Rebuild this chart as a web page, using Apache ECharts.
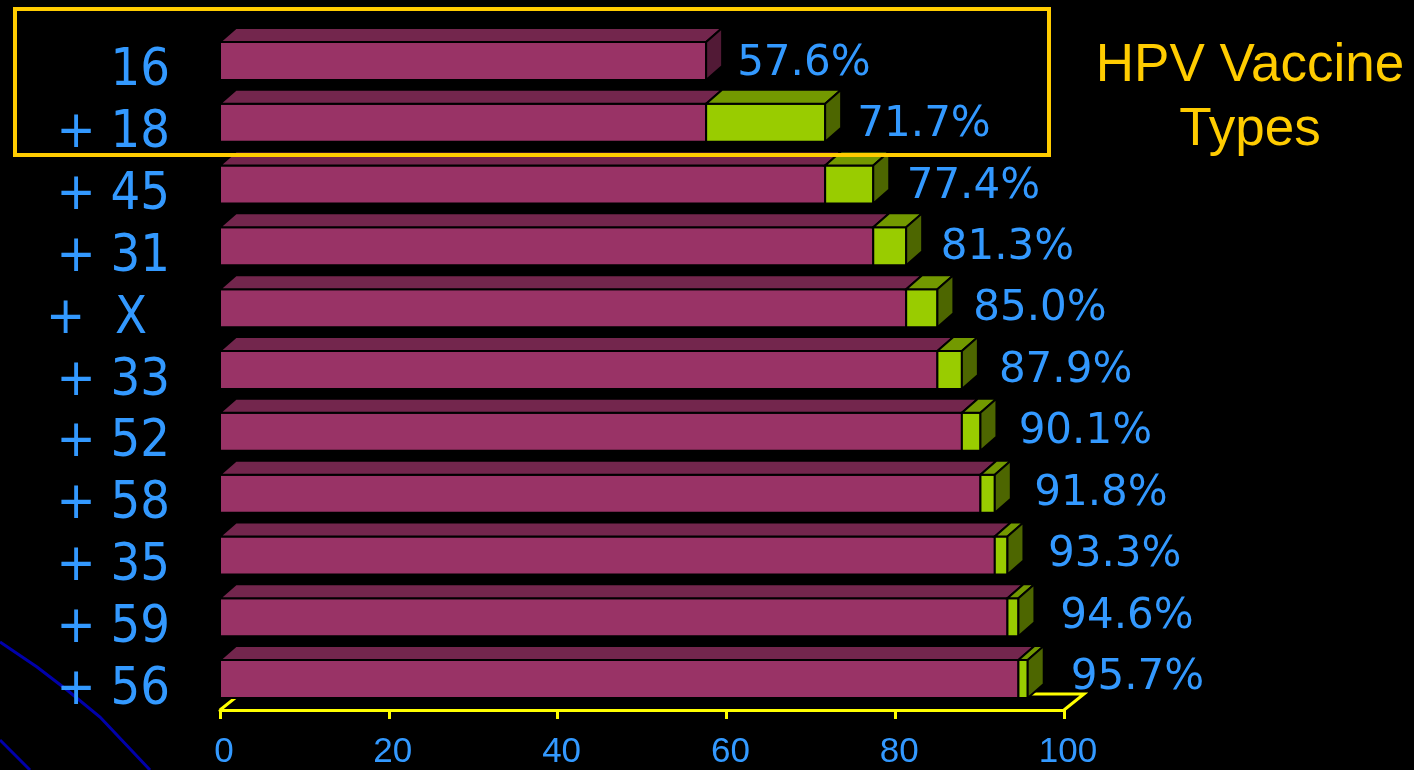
<!DOCTYPE html>
<html>
<head>
<meta charset="UTF-8">
<title>HPV Vaccine Types</title>
<script src="https://cdn.jsdelivr.net/npm/echarts@6/dist/echarts.min.js"></script>
<style>
  html, body { margin: 0; padding: 0; background: #000; overflow: hidden; }
  #myChart { width: 1414px; height: 770px; }
</style>
</head>
<body>
<div id="myChart"></div>
<script>
// rows, top to bottom
var typeLabels = ['16', '+ 18', '+ 45', '+ 31', '+  X', '+ 33', '+ 52', '+ 58', '+ 35', '+ 59', '+ 56'];
// cumulative share before the type is added (magenta part)
var baseValues = [57.6, 57.6, 71.7, 77.4, 81.3, 85.0, 87.9, 90.1, 91.8, 93.3, 94.6];
// share added by the type (green part)
var addedValues = [0, 14.1, 5.7, 3.9, 3.7, 2.9, 2.2, 1.7, 1.5, 1.3, 1.1];
// cumulative share shown at the end of each bar
var totalValues = [57.6, 71.7, 77.4, 81.3, 85.0, 87.9, 90.1, 91.8, 93.3, 94.6, 95.7];
var axisTicks = [0, 20, 40, 60, 80, 100];

var BLUE = '#3399ff';
var YELLOW = '#ffff00';
var GOLD = '#ffcc00';

var myChart = echarts.init(document.getElementById('myChart'));

function renderBar(params, api) {
  var i = params.dataIndex;
  var base = api.value(0), total = api.value(1), added = api.value(3);
  var p0 = api.coord([0, i]);
  var pb = api.coord([base, i]);
  var pt = api.coord([total, i]);
  var h = 38, dx = 16, dy = 14;
  var top = p0[1] - h / 2, bot = p0[1] + h / 2;
  var edge = { stroke: '#000', lineWidth: 2 };

  function front(x1, x2, color) {
    return { type: 'rect', shape: { x: x1, y: top, width: x2 - x1, height: h },
      style: Object.assign({ fill: color }, edge) };
  }
  function lid(x1, x2, color) {
    return { type: 'polygon', shape: { points: [[x1, top], [x1 + dx, top - dy], [x2 + dx, top - dy], [x2, top]] },
      style: Object.assign({ fill: color }, edge) };
  }
  function side(x, color) {
    return { type: 'polygon', shape: { points: [[x, top], [x + dx, top - dy], [x + dx, bot - dy], [x, bot]] },
      style: Object.assign({ fill: color }, edge) };
  }

  var children = [front(p0[0], pb[0], '#993366'), lid(p0[0], pb[0], '#73264d')];
  if (added > 0) {
    children.push(front(pb[0], pt[0], '#99cc00'));
    children.push(lid(pb[0], pt[0], '#739900'));
    children.push(side(pt[0], '#4d6600'));
  } else {
    children.push(side(pb[0], '#521a36'));
  }
  // the value labels drift a little further right going down, as in the slide
  children.push({
    type: 'text',
    style: {
      x: pt[0] + 31 + 1.2 * i, y: p0[1] + 3 - 0.4 * i,
      text: total.toFixed(1) + '%',
      fill: BLUE, fontSize: 42, fontFamily: 'DejaVu Sans',
      align: 'left', verticalAlign: 'middle'
    }
  });
  return { type: 'group', children: children };
}

function renderFloor(params) {
  var cs = params.coordSys;
  var x0 = cs.x, x1 = cs.x + cs.width, b = cs.y + cs.height;
  return {
    type: 'polyline',
    shape: { points: [[x0, b], [x0 + 20, b - 16], [x1 + 20, b - 16], [x1, b]] },
    style: { stroke: YELLOW, lineWidth: 3, fill: null }
  };
}

var barData = typeLabels.map(function (t, i) {
  return [baseValues[i], totalValues[i], t, addedValues[i]];
});

myChart.setOption({
  backgroundColor: '#000',
  animation: false,
  grid: { left: 220, right: 350, top: 30, bottom: 54, containLabel: false },
  xAxis: {
    type: 'value', min: 0, max: 100, interval: 20,
    splitLine: { show: false },
    axisLine: { show: true, lineStyle: { color: YELLOW, width: 3 } },
    axisTick: { show: true, inside: false, length: 9, lineStyle: { color: YELLOW, width: 3 } },
    axisLabel: {
      color: BLUE, fontSize: 35, fontFamily: 'Liberation Sans', margin: 25,
      padding: [0, 0, 0, 8],
      formatter: function (v) { return axisTicks.indexOf(v) >= 0 ? String(v) : ''; }
    }
  },
  yAxis: {
    type: 'category', inverse: true, data: typeLabels,
    axisLine: { show: false }, axisTick: { show: false }, splitLine: { show: false },
    axisLabel: {
      interval: 0,
      color: BLUE, fontSize: 52, fontFamily: 'DejaVu Sans Condensed', margin: 50,
      padding: [22, 0, 0, 0],
      formatter: function (v) { return v.indexOf('X') >= 0 ? '{x|' + v + '}' : v; },
      rich: {
        x: { color: BLUE, fontSize: 52, fontFamily: 'DejaVu Sans Condensed', padding: [0, 23, 0, 0] }
      }
    }
  },
  series: [
    { type: 'custom', z: 1, data: [[0, typeLabels[0]]], renderItem: renderFloor, silent: true },
    { type: 'custom', z: 2, data: barData, encode: { x: [0, 1], y: 2 }, renderItem: renderBar }
  ],
  graphic: [
    { type: 'polyline', z: -1, shape: { points: [[0, 642], [37, 667], [67, 690], [100, 717], [150, 770]] },
      style: { stroke: '#0000aa', lineWidth: 3, fill: null } },
    { type: 'polyline', z: -1, shape: { points: [[0, 740], [30, 770]] },
      style: { stroke: '#0000aa', lineWidth: 3, fill: null } },
    { type: 'rect', z: 100, shape: { x: 15, y: 9, width: 1034, height: 146 },
      style: { stroke: GOLD, lineWidth: 4, fill: null } },
    { type: 'text', z: 100, x: 1250, y: 34,
      style: { text: 'HPV Vaccine\nTypes', fill: GOLD, fontSize: 53, fontFamily: 'Liberation Sans',
        lineHeight: 64, align: 'center', verticalAlign: 'top' } }
  ]
});
</script>
</body>
</html>
